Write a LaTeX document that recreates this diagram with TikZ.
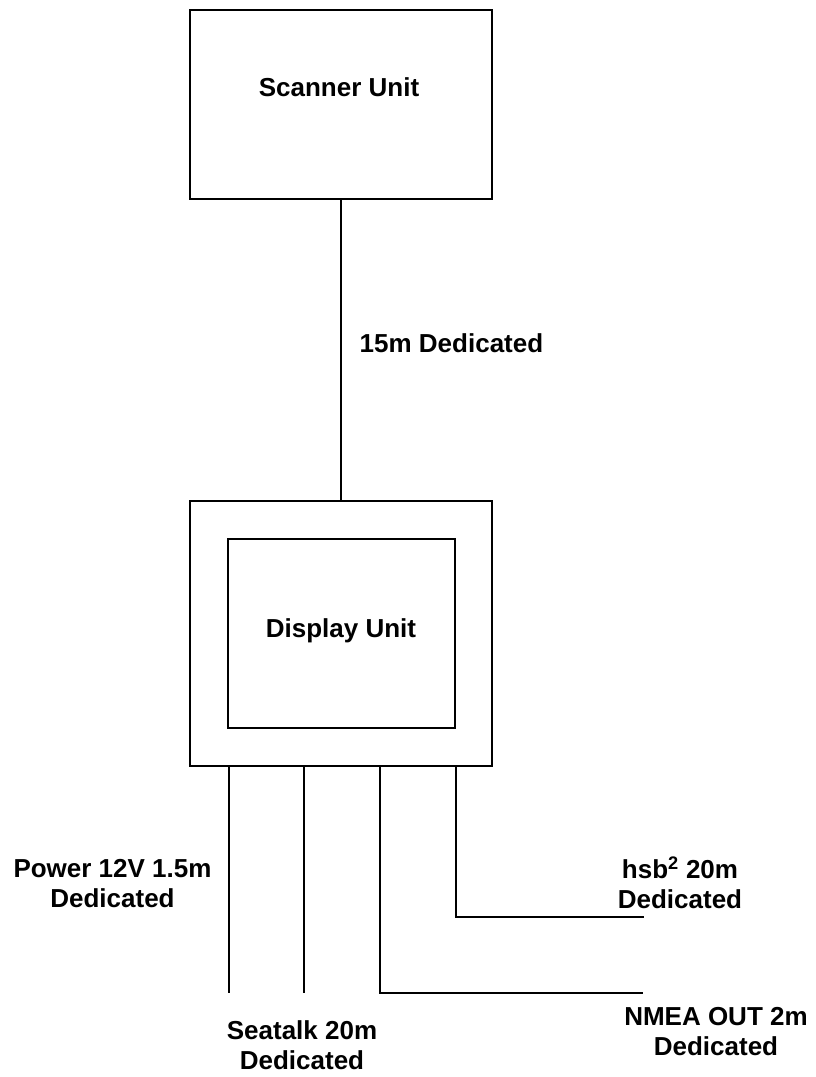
\documentclass[tikz,border=0pt]{standalone}
\usepackage{fontspec}
\setmainfont{Liberation Sans}
\begin{document}
\begin{tikzpicture}[x=1pt, y=-1pt, line width=2pt,
  unitbox/.style={draw, inner sep=0pt, minimum width=302pt},
  lbl/.style={align=center, inner sep=0pt, font=\fontsize{26}{30}\selectfont\bfseries}]
  \useasboundingbox (0,0) rectangle (815,1077);

  % units
  \node[unitbox, minimum height=189pt] (scanner) at (341,104.5) {};
  \node[lbl] (scannertext) at (339,87.5) {Scanner Unit};
  \node[unitbox, minimum height=265pt] (display) at (341,633.5) {};
  \node[draw, inner sep=0pt, minimum width=227pt, minimum height=189pt] (screen) at (341.5,633.5) {};
  \node[lbl] (displaytext) at (341,631) {Display Unit};

  % scanner cable
  \draw (scanner) -- (display);
  \node[lbl] (scancable) at (451.5,343.5) {15m Dedicated};

  % cable ends
  \coordinate (pwend) at (229,993);
  \coordinate (stend) at (304,993);
  \coordinate (nmbend) at (380,993);
  \coordinate (nmend) at (643,993);
  \coordinate (hsbend) at (456,917);
  \coordinate (hsend) at (644,917);

  \draw (display.south -| pwend) -- (pwend);
  \draw (display.south -| stend) -- (stend);
  \draw (display.south -| nmbend) -- (nmbend) -- (nmend);
  \draw (display.south -| hsbend) -- (hsbend) -- (hsend);

  \node[lbl] (pwtext) at (112.5,884) {Power 12V 1.5m\\Dedicated};
  \node[lbl] (sttext) at (302,1045) {Seatalk 20m\\Dedicated};
  \node[lbl] (nmtext) at (716,1031.5) {NMEA OUT 2m\\Dedicated};
  \node[lbl] (hstext) at (680,883) {hsb\textsuperscript{2} 20m\\Dedicated};
\end{tikzpicture}
\end{document}
